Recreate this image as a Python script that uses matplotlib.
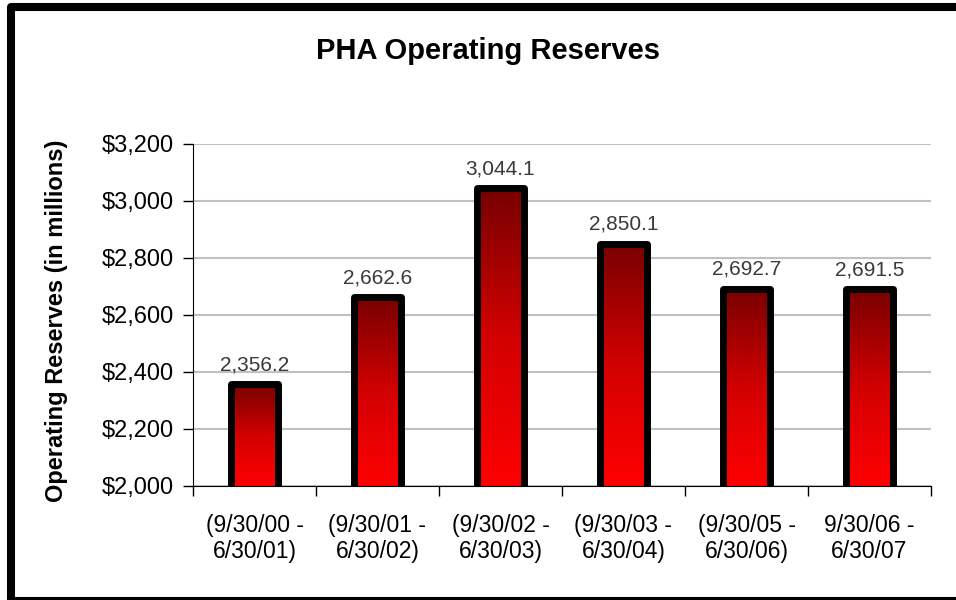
import numpy as np
import matplotlib.pyplot as plt
from matplotlib.colors import LinearSegmentedColormap
from matplotlib.lines import Line2D
from matplotlib.ticker import FuncFormatter, FixedLocator

plt.rcParams['font.family'] = ['Liberation Sans', 'DejaVu Sans']

periods = ['(9/30/00 -\n6/30/01)', '(9/30/01 -\n6/30/02)', '(9/30/02 -\n6/30/03)',
           '(9/30/03 -\n6/30/04)', '(9/30/05 -\n6/30/06)', '9/30/06 -\n6/30/07']
reserves = [2356.2, 2662.6, 3044.1, 2850.1, 2692.7, 2691.5]
y_ticks = [2000, 2200, 2400, 2600, 2800, 3000, 3200]

W, H = 956, 600
fig = plt.figure(figsize=(W / 100, H / 100), dpi=100)
ax = fig.add_axes([193 / W, 1 - 486 / H, (931 - 193) / W, (486 - 144) / H])

# red gradient: dark at top, bright at bottom
cmap = LinearSegmentedColormap.from_list('reds', ['#ff0000', '#d20000', '#780000'])
grad = np.linspace(0, 1, 256).reshape(-1, 1)

x = np.arange(len(periods))
bars = ax.bar(x, reserves, width=0.39, facecolor='none',
              edgecolor='black', linewidth=5, joinstyle='round', zorder=3)
for b, v in zip(bars, reserves):
    x0 = b.get_x()
    img = ax.imshow(grad, cmap=cmap, origin='lower', aspect='auto',
                    extent=(x0, x0 + b.get_width(), 2000, v), zorder=2)
    img.set_clip_path(b)
    ax.annotate(f'{v:,.1f}', (b.get_x() + b.get_width() / 2, v), xytext=(0, 10),
                textcoords='offset points', ha='center', va='baseline',
                fontsize=15, color='#3a3a3a')

ax.set_xlim(-0.5, len(periods) - 0.5)
ax.set_ylim(2000, 3200)
ax.set_yticks(y_ticks)
ax.yaxis.set_major_formatter(FuncFormatter(lambda v, p: f'${v:,.0f}'))
ax.set_xticks(x)
ax.set_xticklabels(periods, fontsize=16.5)
ax.xaxis.set_minor_locator(FixedLocator(np.arange(-0.5, len(periods), 1)))
ax.tick_params(axis='x', which='major', length=0, pad=20)
ax.tick_params(axis='x', which='minor', length=7, width=1)
ax.tick_params(axis='y', length=7, width=1, labelsize=17, pad=7)
ax.grid(axis='y', color='#c0c0c0', linewidth=1.5, zorder=0)
ax.set_axisbelow(True)
for s in ['top', 'right']:
    ax.spines[s].set_visible(False)

ax.set_ylabel('Operating Reserves (in millions)', fontsize=17, fontweight='bold')
ax.yaxis.set_label_coords((68 - 193) / 738, 0.482)
fig.text(488 / W, 1 - 51 / H, 'PHA Operating Reserves', ha='center', va='center',
         fontsize=21, fontweight='bold')

# outer frame of the document figure (open to the right and cut at the bottom)
fx = [(W + 6) / W, 11 / W, 11 / W, (W + 6) / W]
fy = [1 - 7 / H, 1 - 7 / H, 1 - 601 / H, 1 - 601 / H]
frame = Line2D(fx, fy, transform=fig.transFigure, color='black', linewidth=5.8,
               solid_joinstyle='round', solid_capstyle='butt', clip_on=False)
fig.add_artist(frame)

fig.savefig('out.png', dpi=100)
